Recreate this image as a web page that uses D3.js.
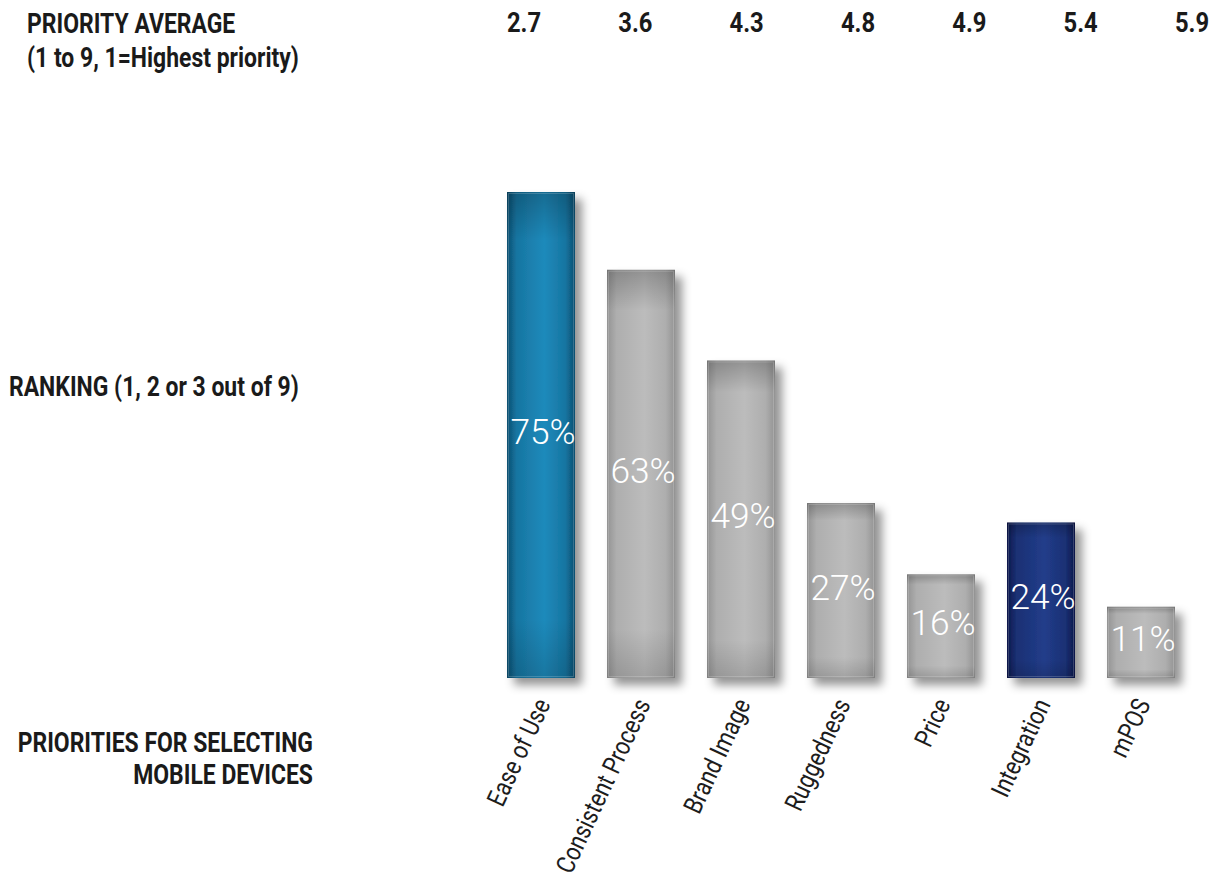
<!DOCTYPE html>
<html>
<head>
<meta charset="utf-8">
<script src="https://cdn.jsdelivr.net/npm/d3@7"></script>
<style>
  html, body { margin: 0; padding: 0; background: #fff; }
  svg { display: block; }
  .hdr { font-family: Roboto, "Liberation Sans", sans-serif; font-weight: bold; fill: #1a1a1a; }
  .cat { font-family: Roboto, "Liberation Sans", sans-serif; fill: #1d1d1d; }
  .pct { font-family: Roboto, "Liberation Sans", sans-serif; font-weight: 300; fill: #fff; }
</style>
</head>
<body>
<svg id="chart" width="1210" height="878"></svg>
<script>
// Priorities for selecting mobile devices
const categories = ["Ease of Use", "Consistent Process", "Brand Image", "Ruggedness", "Price", "Integration", "mPOS"];
const rankingPct = [75, 63, 49, 27, 16, 24, 11];
const priorityAvg = [2.7, 3.6, 4.3, 4.8, 4.9, 5.4, 5.9];
const barTheme = ["blue", "gray", "gray", "gray", "gray", "navy", "gray"];

const data = categories.map((c, i) => ({ cat: c, pct: rankingPct[i], avg: priorityAvg[i], theme: barTheme[i] }));

// horizontal squeeze that gives the faces a condensed look
const HDR_SX = 0.85, CAT_SX = 0.84, PCT_SX = 0.98;

const svg = d3.select("#chart");
const defs = svg.append("defs");

// Colour ramps: edge, centre
const themes = {
  blue: { edge: "#0a4f70", mid: "#1e8abb" },
  gray: { edge: "#939393", mid: "#bcbcbc" },
  navy: { edge: "#0c174a", mid: "#223d8a" }
};

Object.entries(themes).forEach(([k, t]) => {
  const g = defs.append("linearGradient").attr("id", "h-" + k)
    .attr("x1", 0).attr("x2", 1).attr("y1", 0).attr("y2", 0);
  g.append("stop").attr("offset", "0%").attr("stop-color", t.edge);
  g.append("stop").attr("offset", "14%").attr("stop-color", d3.interpolateRgb(t.edge, t.mid)(0.65));
  g.append("stop").attr("offset", "55%").attr("stop-color", t.mid);
  g.append("stop").attr("offset", "86%").attr("stop-color", d3.interpolateRgb(t.edge, t.mid)(0.65));
  g.append("stop").attr("offset", "100%").attr("stop-color", t.edge);
});

// vertical shading: darker towards the top and bottom ends
const v = defs.append("linearGradient").attr("id", "vshade")
  .attr("x1", 0).attr("x2", 0).attr("y1", 0).attr("y2", 1);
v.append("stop").attr("offset", "0%").attr("stop-color", "#000").attr("stop-opacity", 0.22);
v.append("stop").attr("offset", "10%").attr("stop-color", "#000").attr("stop-opacity", 0.0);
v.append("stop").attr("offset", "88%").attr("stop-color", "#000").attr("stop-opacity", 0.0);
v.append("stop").attr("offset", "100%").attr("stop-color", "#000").attr("stop-opacity", 0.14);

const shadow = defs.append("filter").attr("id", "shadow")
  .attr("x", "-30%").attr("y", "-20%").attr("width", "180%").attr("height", "150%");
shadow.append("feDropShadow").attr("dx", 7).attr("dy", 7).attr("stdDeviation", 5)
  .attr("flood-color", "#000").attr("flood-opacity", 0.42);

const x = d3.scaleBand().domain(categories).range([491, 1191]).paddingInner(0.32).paddingOuter(0.16);
const y = d3.scaleLinear().domain([0, 100]).range([678, 30]);
const xTop = d3.scalePoint().domain(categories).range([524, 1192]);

// Bars
const bars = svg.append("g").selectAll("g").data(data).join("g");
bars.append("rect")
  .attr("x", d => x(d.cat)).attr("y", d => y(d.pct))
  .attr("width", x.bandwidth()).attr("height", d => y(0) - y(d.pct))
  .attr("fill", d => `url(#h-${d.theme})`)
  .attr("filter", "url(#shadow)");
bars.append("rect")
  .attr("x", d => x(d.cat)).attr("y", d => y(d.pct))
  .attr("width", x.bandwidth()).attr("height", d => y(0) - y(d.pct))
  .attr("fill", "url(#vshade)");
// faint light rim inside the edges
bars.append("rect")
  .attr("x", d => x(d.cat) + 1.5).attr("y", d => y(d.pct) + 1.5)
  .attr("width", x.bandwidth() - 3).attr("height", d => y(0) - y(d.pct) - 3)
  .attr("fill", "none").attr("stroke", "#fff").attr("stroke-opacity", 0.18);

// Percent labels
bars.append("text").attr("class", "pct")
  .attr("text-anchor", "middle")
  .attr("font-size", 36)
  .attr("transform", d => `translate(${x(d.cat) + x.bandwidth() / 2 + 2},${(y(d.pct) + y(0)) / 2 + 9}) scale(${PCT_SX},1)`)
  .text(d => d.pct + "%");

// Category labels
svg.append("g").selectAll("text").data(data).join("text")
  .attr("class", "cat")
  .attr("font-size", 26)
  .attr("text-anchor", "end")
  .attr("transform", d => `translate(${x(d.cat) + x.bandwidth() / 2 + 10},${704}) rotate(-65) scale(${CAT_SX},1)`)
  .text(d => d.cat);

// Priority averages
svg.append("g").selectAll("text").data(data).join("text")
  .attr("class", "hdr")
  .attr("font-size", 28)
  .attr("text-anchor", "middle")
  .attr("transform", d => `translate(${xTop(d.cat)},32) scale(${HDR_SX},1)`)
  .text(d => d.avg.toFixed(1));

// Row titles
const titles = [
  { t: "PRIORITY AVERAGE", x: 27, y: 33, a: "start" },
  { t: "(1 to 9, 1=Highest priority)", x: 27, y: 67, a: "start" },
  { t: "RANKING (1, 2 or 3 out of 9)", x: 9, y: 396, a: "start" },
  { t: "PRIORITIES FOR SELECTING", x: 313, y: 752, a: "end" },
  { t: "MOBILE DEVICES", x: 313, y: 784, a: "end" }
];
svg.append("g").selectAll("text").data(titles).join("text")
  .attr("class", "hdr")
  .attr("font-size", 27)
  .attr("text-anchor", d => d.a)
  .attr("transform", d => `translate(${d.x},${d.y}) scale(${HDR_SX},1)`)
  .text(d => d.t);
</script>
</body>
</html>
